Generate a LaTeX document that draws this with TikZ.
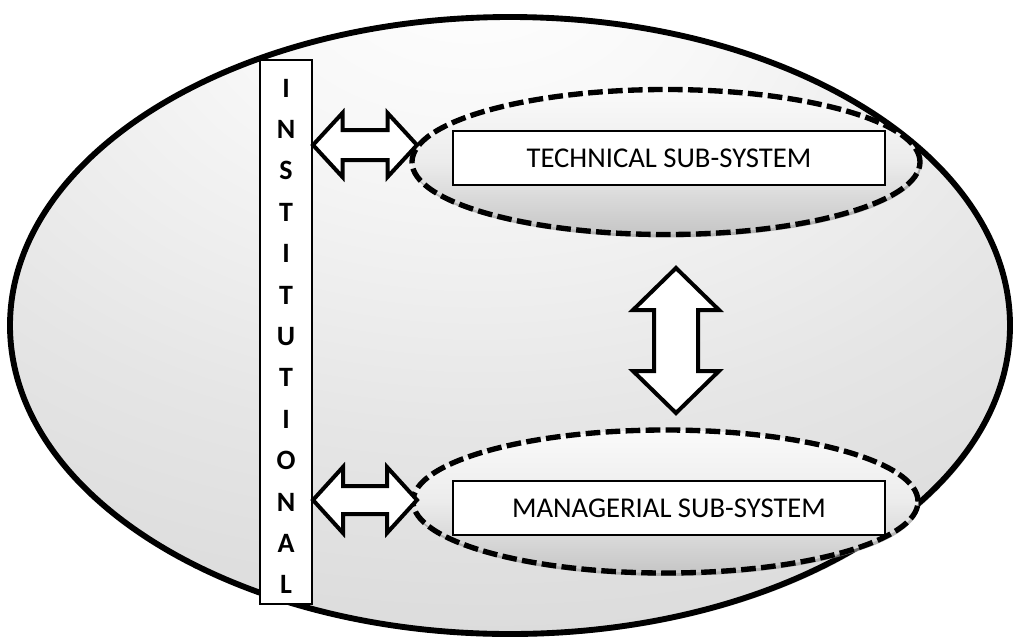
\documentclass[tikz,border=0pt]{standalone}
\usepackage{fontspec}
\setmainfont{Carlito}
\usetikzlibrary{shapes.geometric,calc,shadows}

\definecolor{shA}{gray}{1.00}
\definecolor{shB}{gray}{0.97}
\definecolor{shC}{gray}{0.90}
\definecolor{shD}{gray}{0.84}
\definecolor{shE}{gray}{0.77}
\definecolor{shF}{gray}{0.73}

% soft radial fill of the outer system, lightest towards the upper middle
\pgfdeclareradialshading{systemfill}{\pgfpoint{-2bp}{30bp}}{%
  color(0bp)=(shA); color(12bp)=(shB); color(30bp)=(shC);
  color(50bp)=(shD); color(75bp)=(shE); color(100bp)=(shF)}

% white block arrows with a heavy black outline
\newcommand\hdarrow[5]{% #1 left tip, #2 right tip, #3 head length, #4 head half width, #5 shaft half width
  \draw[blockarrow] (#1) -- ($(#1)+(#3,-#4)$) -- ($(#1)+(#3,-#5)$) -- ($(#2)+(-#3,-#5)$)
    -- ($(#2)+(-#3,-#4)$) -- (#2) -- ($(#2)+(-#3,#4)$) -- ($(#2)+(-#3,#5)$)
    -- ($(#1)+(#3,#5)$) -- ($(#1)+(#3,#4)$) -- cycle;}
\newcommand\vdarrow[5]{% #1 top tip, #2 bottom tip, #3 head length, #4 head half width, #5 shaft half width
  \draw[blockarrow] (#1) -- ($(#1)+(-#4,#3)$) -- ($(#1)+(-#5,#3)$) -- ($(#2)+(-#5,-#3)$)
    -- ($(#2)+(-#4,-#3)$) -- (#2) -- ($(#2)+(#4,-#3)$) -- ($(#2)+(#5,-#3)$)
    -- ($(#1)+(#5,#3)$) -- ($(#1)+(#4,#3)$) -- cycle;}

\tikzset{
  system/.style={ellipse, draw=black, line width=4.4pt, inner sep=0pt,
    minimum width=750pt, minimum height=462.75pt, shade, shading=systemfill,
    drop shadow={shadow xshift=1.5pt, shadow yshift=-2pt, fill=gray!70, opacity=0.6}},
  subsystem/.style={ellipse, draw=black, line width=4pt, inner sep=0pt,
    dash pattern=on 11pt off 4pt,
    top color=gray!4, bottom color=gray!45, middle color=gray!15,
    drop shadow={shadow xshift=0.8pt, shadow yshift=-2.2pt, fill=gray!80, opacity=0.7}},
  namebox/.style={rectangle, draw=black, line width=1.4pt, fill=white, inner sep=0pt,
    minimum width=324pt, minimum height=40.5pt, font=\fontsize{21.5}{24}\selectfont},
  instbox/.style={rectangle, draw=black, line width=1.5pt, fill=white, inner sep=0pt,
    minimum width=39pt, minimum height=408pt},
  instletter/.style={anchor=base, inner sep=0pt, font=\fontsize{21}{24}\selectfont\bfseries},
  blockarrow/.style={draw=black, fill=white, line width=3pt, line join=miter, miter limit=6}
}

\begin{document}
\begin{tikzpicture}[x=0.75pt, y=-0.75pt]
  \path[fill=white, use as bounding box] (0,0) rectangle (1014,640);

  % outer system
  \node[system] (sys) at (510,325.5) {};

  % the two sub-systems
  \node[subsystem, minimum width=381pt, minimum height=108.75pt] (techE) at (666,162) {};
  \node[subsystem, minimum width=378.75pt, minimum height=107.25pt] (manE) at (665.5,501.5) {};
  \node[namebox] (tech) at (669,158) {TECHNICAL SUB-SYSTEM};
  \node[namebox] (man) at (669,508) {MANAGERIAL SUB-SYSTEM};

  % institutional bar with its vertical lettering
  \node[instbox] (inst) at (286,332) {};
  \foreach \ch [count=\i from 0] in {I,N,S,T,I,T,U,T,I,O,N,A,L}
    \node[instletter] (let\i) at (286,97+\i*41.4) {\ch};

  % interfaces
  \coordinate (ta) at (inst.east |- 0,145);
  \coordinate (tb) at (417,145);
  \coordinate (ma) at (inst.east |- 0,500);
  \coordinate (mb) at (417,500);
  \coordinate (va) at (676,268);
  \coordinate (vb) at (676,413);
  \hdarrow{ta}{tb}{29.5}{32}{15}
  \hdarrow{ma}{mb}{30}{33}{14}
  \vdarrow{va}{vb}{42}{43}{22}
\end{tikzpicture}
\end{document}
